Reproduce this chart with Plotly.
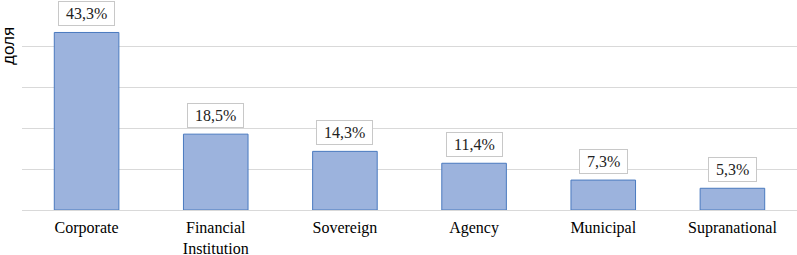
import plotly.graph_objects as go

categories = ["Corporate", "Financial<br>Institution", "Sovereign", "Agency", "Municipal", "Supranational"]
values = [43.3, 18.5, 14.3, 11.4, 7.3, 5.3]
labels = ["43,3%", "18,5%", "14,3%", "11,4%", "7,3%", "5,3%"]

fig = go.Figure()
fig.add_trace(go.Bar(
    x=categories, y=values, width=0.5,
    marker=dict(color="#9cb3dd", line=dict(color="#4a7abf", width=1)),
    hoverinfo="skip",
))

for c, v, t in zip(categories, values, labels):
    fig.add_annotation(
        x=c, y=v, text="&nbsp;" + t + "&nbsp;", showarrow=False, yanchor="bottom", yshift=6,
        font=dict(family="Liberation Serif", size=16, color="#222"),
        bgcolor="white", bordercolor="#c8c8c8", borderwidth=1, borderpad=3,
    )

fig.add_annotation(
    xref="paper", yref="paper", x=0, xshift=-13, y=0.80, text="доля", textangle=-90,
    showarrow=False, xanchor="center", yanchor="middle",
    font=dict(family="Liberation Sans", size=17, color="black"),
)

fig.update_layout(
    width=797, height=255,
    margin=dict(l=22, r=0, t=5, b=45, autoexpand=False),
    plot_bgcolor="white", paper_bgcolor="white",
    showlegend=False,
    bargap=0.5,
    xaxis=dict(
        tickfont=dict(family="Liberation Serif", size=16, color="black"),
        showline=False, ticks="", showgrid=False, automargin=False,
        ticklabelstandoff=6,
    ),
    yaxis=dict(
        range=[0, 50], dtick=10, showticklabels=False, automargin=False,
        showgrid=True, gridcolor="#d9d9d9", gridwidth=1,
        zeroline=True, zerolinecolor="#d9d9d9", zerolinewidth=1,
    ),
)

fig.write_html("out.html", config={"displayModeBar": False},
               post_script="document.body.style.margin='0';")
